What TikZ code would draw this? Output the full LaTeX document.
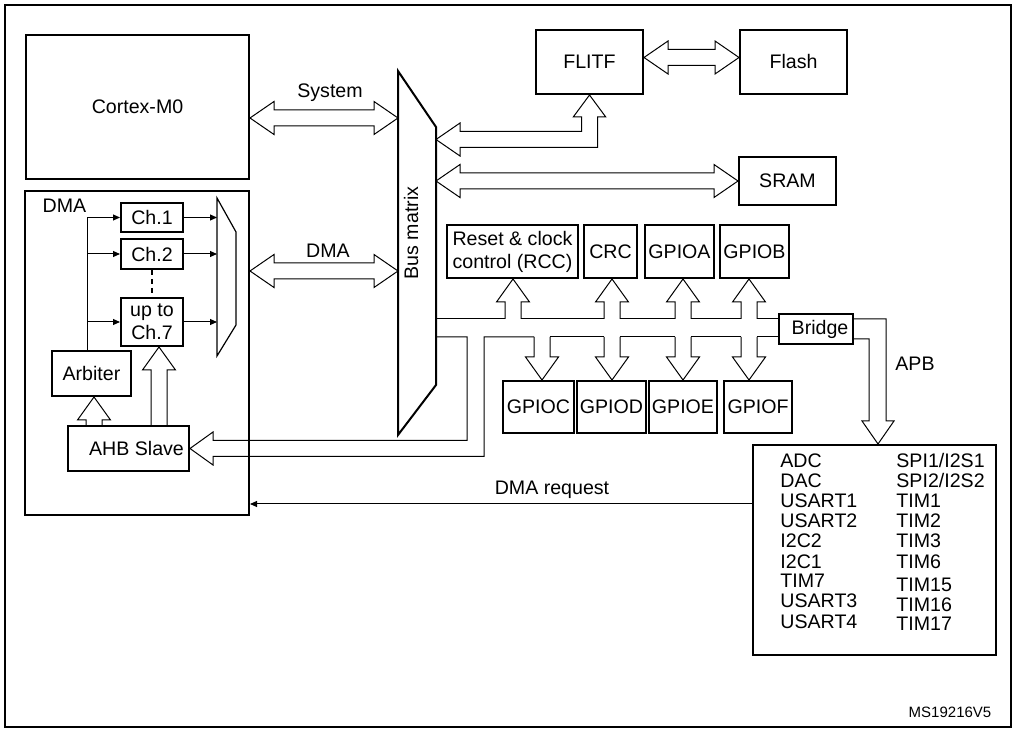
\documentclass[tikz,border=0pt]{standalone}
\usepackage{fontspec}
\setmainfont{Liberation Sans}
\usetikzlibrary{arrows.meta,calc}

\tikzset{
  blk/.style={draw, line width=1pt, inner sep=0pt, align=center},
  pipe/.style={line width=0.5pt},
  tip/.style={line width=0.5pt, -{Triangle[length=3.5pt,width=3pt]}},
}

% fat double arrow, y of #1, tips at x of #1 and #2
\newcommand\dblarr[2]{\draw[pipe] let \p1=#1, \p2=#2 in
  (\x1,\y1) -- (\x1+12pt,\y1+8.25pt) -- (\x1+12pt,\y1+4pt) -- (\x2-12pt,\y1+4pt)
  -- (\x2-12pt,\y1+8.25pt) -- (\x2,\y1) -- (\x2-12pt,\y1-8.25pt) -- (\x2-12pt,\y1-4pt)
  -- (\x1+12pt,\y1-4pt) -- (\x1+12pt,\y1-8.25pt) -- cycle;}

% fat arrow up (1) or down (-1): foot #1, tip at y of #2
\newcommand\varr[3]{\draw[pipe] let \p1=#1, \p2=#2 in
  (\x1-4pt,\y1) -- (\x1-4pt,{\y2-(#3)*11.5pt}) -- (\x1-8.25pt,{\y2-(#3)*11.5pt}) -- (\x1,\y2)
  -- (\x1+8.25pt,{\y2-(#3)*11.5pt}) -- (\x1+4pt,{\y2-(#3)*11.5pt}) -- (\x1+4pt,\y1);}

\begin{document}
\begin{tikzpicture}[x=0.5pt, y=-0.5pt, font=\fontsize{9.8}{11.5}\selectfont]
  \useasboundingbox (0,0) rectangle (1017,731);
  \draw[line width=1.2pt] (5,5) rectangle (1011,727);

  \foreach \n/\a/\b/\c/\d/\t in {
      cm/26/35/249/179/Cortex-M0, dma/25/191/249/515/{},
      ch1/121/203/183/232/Ch.1, ch2/121/239/183/269/Ch.2, ch7/121/298/183/346/{up to\\Ch.7},
      arb/52/351/131/396/Arbiter, ahb/68/426/189/471/{\hspace*{8pt}AHB Slave},
      flitf/536/30/643/94/FLITF, flash/740/30/847/94/Flash, sram/739/157/836/205/SRAM,
      rcc/447/225/578/278/{Reset \& clock\\control (RCC)}, crc/584/225/637/278/CRC,
      gpa/645/225/714/278/GPIOA, gpb/720/225/789/278/GPIOB,
      gpc/503/381/574/433/GPIOC, gpd/577/381/646/433/GPIOD,
      gpe/649/381/717/433/GPIOE, gpf/724/381/792/433/GPIOF,
      brg/779/314/853/344/{\hspace*{4pt}Bridge}, apb/753/445/996/655/{}}
    \node[blk, minimum width={(\c-\a)*0.5pt}, minimum height={(\d-\b)*0.5pt}]
      (\n) at ({(\a+\c)/2},{(\b+\d)/2}) {\t};

  % bus matrix
  \coordinate (bm1) at (398,71);
  \coordinate (bm2) at (436,127);
  \coordinate (bm3) at (436,385);
  \coordinate (bm4) at (398,435);
  \draw[line width=1pt] (bm1) -- (bm2) -- (bm3) -- (bm4) -- cycle;
  \node[rotate=90] (bm) at (411,233) {Bus matrix};

  % DMA inside
  \node[anchor=base] (dmal) at (64.5,213) {DMA};
  \coordinate (dv) at (87,217.5);
  \coordinate (mx) at (217,198);
  \draw[line width=0.6pt] (mx) -- (236,232) -- (236,325) -- (217,356) -- cycle;
  \draw[pipe] (arb.north -| dv) -- (dv);
  \foreach \m in {ch1,ch2,ch7} {
    \draw[tip] (\m.west -| dv) -- (\m.west);
    \draw[tip] (\m.east) -- (\m.east -| mx);
  }
  \draw[line width=1pt, dash pattern=on 2.5pt off 2pt] (ch2.south) -- (ch7.north);
  \varr{(ahb.north -| 94,0)}{(arb.south)}{1}
  \varr{(ahb.north -| 159,0)}{(ch7.south)}{1}

  % buses to the matrix
  \dblarr{([yshift=-5.5pt]cm.east)}{(bm1)}
  \dblarr{([yshift=41pt]dma.east)}{(bm1)}
  \dblarr{([yshift=2.25pt]flitf.east)}{(flash.west)}
  \dblarr{(sram.west -| bm2)}{(sram.west)}
  \draw[pipe] (bm2 |- 0,139.5) -- (460,123) -- (460,131.5) -- (581.5,131.5) -- (581.5,117)
    -- (573.25,117) -- (flitf.south) -- (605.75,117) -- (597.5,117) -- (597.5,147.5)
    -- (460,147.5) -- (460,156) -- cycle;
  \node[anchor=base] (sys) at (330,98) {System};
  \node[anchor=base] (dmab) at (328,258) {DMA};

  % AHB
  \foreach \a/\b in {436/505, 521/604, 620/675, 691/741, 757/779}
    \draw[pipe] (\a,319) -- (\b,319);
  \foreach \a/\b in {550/604, 620/675, 691/741, 757/779}
    \draw[pipe] (\a,337) -- (\b,337);
  \draw[pipe] (436,337) -- (467,337) -- (467,440.5) -- (213,440.5) -- (213,432) -- (ahb.east)
    -- (213,465) -- (213,456.5) -- (484,456.5) -- (484,337) -- (534,337);
  \foreach \c/\m in {513/rcc, 612/crc, 683/gpa, 749/gpb} {
    \varr{(\c,319)}{(\m.south)}{1}
  }
  \foreach \c/\m in {542/gpc, 612/gpd, 683/gpe, 749/gpf} {
    \varr{(\c,337)}{(\m.north)}{-1}
  }

  % APB
  \draw[pipe] (brg.east |- 0,319) -- (886,319) -- (886,421) -- (894,421) -- (apb.north -| 878,0)
    -- (862,421) -- (869,421) -- (869,339) -- (brg.east |- 0,339);
  \node[anchor=base] (apbl) at (915,371) {APB};
  \foreach \t [count=\i] in {ADC,DAC,USART1,USART2,I2C2,I2C1,TIM7,USART3,USART4}
    \node[anchor=base west, inner sep=0pt] (pl\i) at (780,{448+20*\i}) {\t};
  \foreach \t/\yy [count=\i] in {{SPI1/I2S1}/468,{SPI2/I2S2}/488,TIM1/508,TIM2/528,
      TIM3/548,TIM6/568,TIM15/591,TIM16/611,TIM17/631}
    \node[anchor=base west, inner sep=0pt] (pr\i) at (896,\yy) {\t};

  \draw[tip] (apb.west |- 0,504) -- (dma.east |- 0,504);
  \node[anchor=base] (req) at (552,495) {DMA request};
  \node[anchor=base, font=\fontsize{7.5}{9}\selectfont] (ms) at (950,717) {MS19216V5};
\end{tikzpicture}
\end{document}
